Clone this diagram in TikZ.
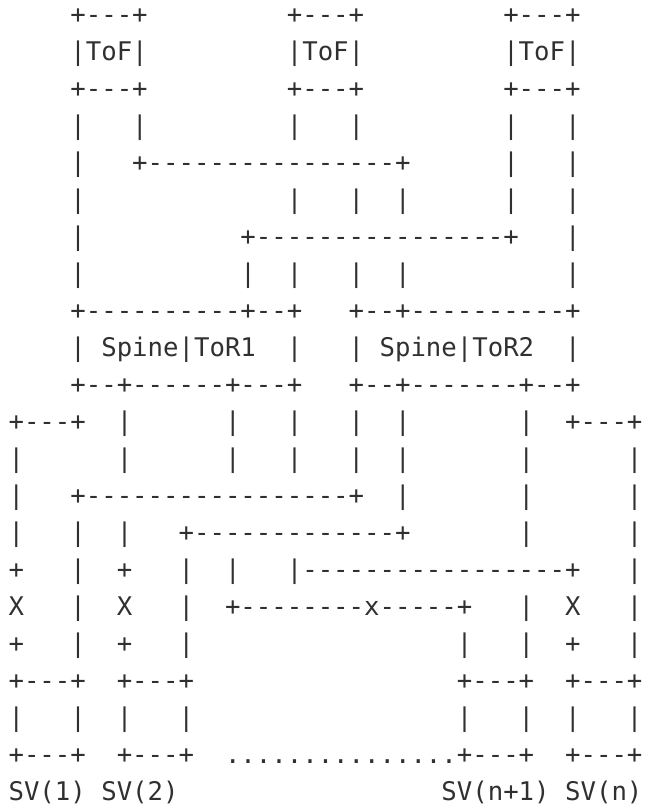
\documentclass[tikz,border=0pt]{standalone}
\usepackage{fontspec}
\setmonofont{DejaVu Sans Mono}
\usepackage{tikz}
\definecolor{ASInk}{HTML}{303030}
\tikzset{
  ascii/.style={text=ASInk,font=\ttfamily\fontsize{19.26}{27.75}\selectfont,
                inner sep=0pt,anchor=base west},
}

\begin{document}
\begin{tikzpicture}[x=11.595pt,y=-27.75pt]
  \useasboundingbox (-0.537,0.363) rectangle (41.378,22.228);
  % ToF row
  \foreach \c/\txt in {4/+---+,18/+---+,32/+---+} \node[ascii] (r1c\c) at (\c,1) {\txt};
  \foreach \c/\txt in {4/|ToF|,18/|ToF|,32/|ToF|} \node[ascii] (r2c\c) at (\c,2) {\txt};
  \foreach \c/\txt in {4/+---+,18/+---+,32/+---+} \node[ascii] (r3c\c) at (\c,3) {\txt};
  % links down to the spines
  \foreach \c in {4,8,18,22,32,36} \node[ascii] (r4c\c) at (\c,4) {|};
  \foreach \c/\txt in {4/|,8/+----------------+,32/|,36/|} \node[ascii] (r5c\c) at (\c,5) {\txt};
  \foreach \c in {4,18,22,25,32,36} \node[ascii] (r6c\c) at (\c,6) {|};
  \foreach \c/\txt in {4/|,15/+----------------+,36/|} \node[ascii] (r7c\c) at (\c,7) {\txt};
  \foreach \c in {4,15,18,22,25,36} \node[ascii] (r8c\c) at (\c,8) {|};
  % Spine|ToR boxes
  \foreach \c/\txt in {4/+----------+--+,22/+--+----------+} \node[ascii] (r9c\c) at (\c,9) {\txt};
  \foreach \c/\txt in {4/|,6/Spine|ToR1,18/|,22/|,24/Spine|ToR2,36/|} \node[ascii] (r10c\c) at (\c,10) {\txt};
  \foreach \c/\txt in {4/+--+------+---+,22/+--+-------+--+} \node[ascii] (r11c\c) at (\c,11) {\txt};
  % links down to the servers
  \foreach \c/\txt in {0/+---+,7/|,14/|,18/|,22/|,25/|,33/|,36/+---+} \node[ascii] (r12c\c) at (\c,12) {\txt};
  \foreach \c in {0,7,14,18,22,25,33,40} \node[ascii] (r13c\c) at (\c,13) {|};
  \foreach \c/\txt in {0/|,4/+-----------------+,25/|,33/|,40/|} \node[ascii] (r14c\c) at (\c,14) {\txt};
  \foreach \c/\txt in {0/|,4/|,7/|,11/+-------------+,33/|,40/|} \node[ascii] (r15c\c) at (\c,15) {\txt};
  \foreach \c/\txt in {0/+,4/|,7/+,11/|,14/|,18/|-----------------+,40/|} \node[ascii] (r16c\c) at (\c,16) {\txt};
  \foreach \c/\txt in {0/X,4/|,7/X,11/|,14/+--------x-----+,33/|,36/X,40/|} \node[ascii] (r17c\c) at (\c,17) {\txt};
  \foreach \c/\txt in {0/+,4/|,7/+,11/|,29/|,33/|,36/+,40/|} \node[ascii] (r18c\c) at (\c,18) {\txt};
  % servers
  \foreach \c/\txt in {0/+---+,7/+---+,29/+---+,36/+---+} \node[ascii] (r19c\c) at (\c,19) {\txt};
  \foreach \c in {0,4,7,11,29,33,36,40} \node[ascii] (r20c\c) at (\c,20) {|};
  \foreach \c/\txt in {0/+---+,7/+---+,36/+---+} \node[ascii] (r21c\c) at (\c,21) {\txt};
  \node[ascii] (r21c14) at (14,21) {...............+---+};
  \foreach \c/\txt in {0/{SV(1)},6/{SV(2)},28/{SV(n+1)},36/{SV(n)}} \node[ascii] (r22c\c) at (\c,22) {\txt};
\end{tikzpicture}
\end{document}
